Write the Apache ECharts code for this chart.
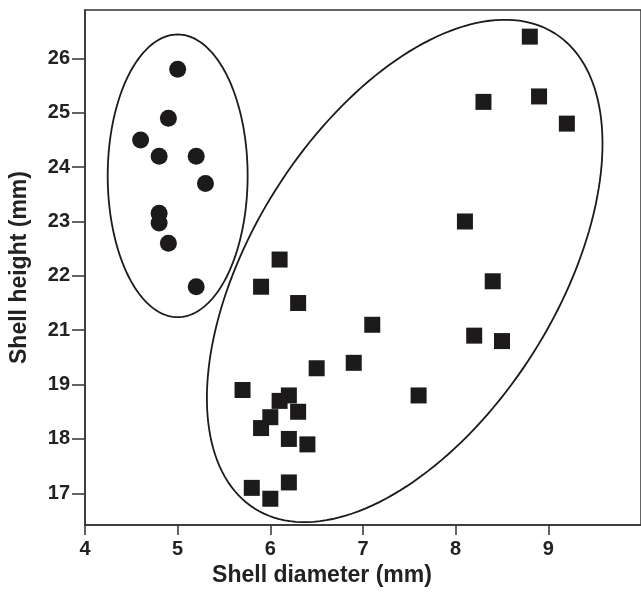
<!DOCTYPE html>
<html lang="en">
<head>
    <meta charset="UTF-8">
    <title>Shell height vs diameter</title>
    <style>
        html, body { margin: 0; padding: 0; background: #fff; }
        #main { width: 641px; height: 592px; }
    </style>
</head>
<body>
<div id="main"></div>

<script src="https://cdn.jsdelivr.net/npm/echarts@6/dist/echarts.min.js"></script>
<script>

    // the printed y labels skip "20" (…19, 21…), so the axis runs on the upper labels
    const xTicks = [4, 5, 6, 7, 8, 9];
    const yTicks = [18, 19, 20, 21, 22, 23, 24, 25, 26];
    const yTickLabels = ['17', '18', '19', '21', '22', '23', '24', '25', '26'];

    // group 1 (circles)
    const circleX = [5.0, 4.9, 4.6, 4.8, 5.2, 5.3, 4.8, 4.8, 4.9, 5.2];
    const circleY = [25.8, 24.9, 24.5, 24.2, 24.2, 23.7, 23.15, 22.97, 22.6, 21.8];

    // group 2 (squares)
    const squareX = [8.8, 8.3, 8.9, 9.2, 8.1, 8.4, 6.1, 5.9, 6.3, 7.1, 8.2, 8.5, 6.9,
                     7.6, 6.5, 5.7, 6.2, 6.1, 6.0, 5.9, 6.3, 6.2, 6.4, 5.8, 6.2, 6.0];
    const squareY = [26.4, 25.2, 25.3, 24.8, 23.0, 21.9, 22.3, 21.8, 21.5, 21.1, 20.9, 20.8, 20.4,
                     19.8, 20.3, 19.9, 19.8, 19.7, 19.4, 19.2, 19.5, 19.0, 18.9, 18.1, 18.2, 17.9];

    // hand-drawn group outlines: centre x, centre y, then two semi-axis vectors (data units)
    const ellipseCenters = [[5.0, 23.84], [7.45, 22.09]];
    const ellipseAxisU = [[0.755, 0], [1.62, 4.37]];
    const ellipseAxisV = [[0, 2.6], [1.39, -1.5]];

    const ink = '#1c1a1b';
    const font = '"Liberation Sans", Arial, sans-serif';

    let myChart = echarts.init(document.getElementById('main'));

    const option = {
        animation: false,
        grid: {
            left: 85, right: 0, top: 10, bottom: 67,
            show: true, borderColor: '#333', borderWidth: 1.5
        },
        xAxis: {
            type: 'value', min: 4, max: 10, interval: 1,
            name: 'Shell diameter (mm)', nameLocation: 'middle', nameGap: 31,
            nameTextStyle: {fontFamily: font, fontWeight: 'bold', fontSize: 23, color: '#222', padding: [0, 82, 0, 0]},
            axisLine: {lineStyle: {color: '#333', width: 1.5}},
            axisTick: {show: true, length: 10, customValues: xTicks, lineStyle: {color: '#333', width: 1.5}},
            axisLabel: {customValues: xTicks, margin: 14, fontFamily: font, fontWeight: 'bold', fontSize: 20, color: '#222'},
            splitLine: {show: false}
        },
        yAxis: {
            type: 'value', min: 17.417, max: 26.89,
            name: 'Shell height (mm)', nameLocation: 'middle', nameGap: 54, nameRotate: 90,
            nameTextStyle: {fontFamily: font, fontWeight: 'bold', fontSize: 23, color: '#222'},
            axisLine: {show: true, lineStyle: {color: '#333', width: 1.5}},
            axisTick: {show: true, length: 13, customValues: yTicks, lineStyle: {color: '#333', width: 1.5}},
            axisLabel: {
                customValues: yTicks, margin: 15,
                fontFamily: font, fontWeight: 'bold', fontSize: 20, color: '#222',
                formatter: v => yTickLabels[yTicks.indexOf(v)] || ''
            },
            splitLine: {show: false}
        },
        series: [
            {
                type: 'custom',
                clip: false,
                data: ellipseCenters,
                renderItem(params, api) {
                    const c = ellipseCenters[params.dataIndex];
                    const u = ellipseAxisU[params.dataIndex];
                    const v = ellipseAxisV[params.dataIndex];
                    const pts = [];
                    for (let i = 0; i < 180; i++) {
                        const t = i / 180 * Math.PI * 2;
                        pts.push(api.coord([
                            c[0] + u[0] * Math.cos(t) + v[0] * Math.sin(t),
                            c[1] + u[1] * Math.cos(t) + v[1] * Math.sin(t)
                        ]));
                    }
                    return {
                        type: 'polygon',
                        shape: {points: pts},
                        style: {fill: 'none', stroke: ink, lineWidth: 1.8}
                    };
                }
            },
            {
                type: 'scatter',
                symbol: 'circle',
                symbolSize: 17,
                itemStyle: {color: ink, opacity: 1},
                data: circleX.map((x, i) => [x, circleY[i]])
            },
            {
                type: 'scatter',
                symbol: 'rect',
                symbolSize: 16,
                itemStyle: {color: ink, opacity: 1},
                data: squareX.map((x, i) => [x, squareY[i]])
            }
        ]
    };

    myChart.setOption(option);
</script>
</body>
</html>
